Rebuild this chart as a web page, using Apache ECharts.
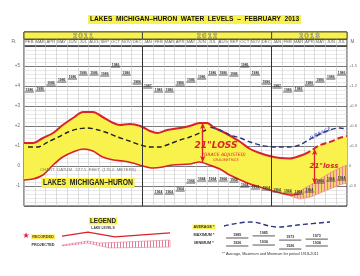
<!DOCTYPE html>
<html>
<head>
<meta charset="utf-8">
<script src="https://cdn.jsdelivr.net/npm/echarts@6/dist/echarts.min.js"></script>
<style>
html, body { margin: 0; padding: 0; background: #fff; }
#main { width: 360px; height: 276px; }
</style>
</head>
<body>
<div id="main"></div>
<script>
// months across the sheet, Feb 2011 .. Jul 2013 (x unit = 1 month, 0 = start of Feb 2011)
var months = ['FEB','MAR','APR','MAY','JUN','JUL','AUG','SEP','OCT','NOV','DEC',
  'JAN','FEB','MAR','APR','MAY','JUN','JUL','AUG','SEP','OCT','NOV','DEC',
  'JAN','FEB','MAR','APR','MAY','JUN','JUL'];
var years = ['2 0 1 1', '2 0 1 2', '2 0 1 3'];
var yearStart = [0, 11, 23];
var yearEnd = [11, 23, 30];

var ftTicks = [-1, 0, 1, 2, 3, 4, 5];
var ftLabels = ['-1', '0', '+1', '+2', '+3', '+4', '+5'];
var mLabels = ['-0.3', '0', '+0.3', '+0.6', '+0.9', '+1.2', '+1.5'];

// lake levels, feet above chart datum
var upperRecorded = [[0,1.15],[0.84,1.15],[1.76,1.4],[2.7,1.65],[3.6,2.05],[4.55,2.4],[5.5,2.7],
  [6.4,2.7],[7.3,2.45],[8.3,2.15],[8.9,2.05],[9.8,2.1],[10.8,2.0],[11.7,1.75],[12.4,1.65],
  [13.3,1.8],[14.5,1.9],[15.4,2.0],[16.3,2.15],[17.0,2.15],[17.7,1.9],[18.7,1.65],[20.1,1.2],
  [21.0,0.85],[21.9,0.65],[22.8,0.5],[23.8,0.4],[24.7,0.38],[25.6,0.5],[26.1,0.6]];
var upperProjected = [[26.1,0.6],[26.6,0.75],[27.5,1.05],[28.4,1.2],[29.3,1.4],[30,1.5]];
var lowerRecorded = [[0,-0.7],[0.84,-0.65],[1.76,-0.45],[2.7,0.05],[3.6,0.45],[4.55,0.7],[5.5,0.85],
  [6.4,0.75],[7.3,0.45],[8.3,0.3],[9.2,0.25],[10.1,0.15],[11.05,0],[12,-0.1],[12.9,-0.05],
  [13.8,0.05],[15.4,0.1],[16.3,0.2],[17.2,0.05],[18.2,-0.15],[19.1,-0.45],[20.1,-0.7],
  [21,-0.9],[21.9,-1.05],[22.8,-1.2],[23.8,-1.35],[24.7,-1.45],[25.6,-1.4]];
var projTop = [[24.7,-1.45],[25.6,-1.25],[26.6,-0.95],[27.5,-0.65],[28.4,-0.35],[29.3,-0.1],[30,0.05]];
var projBottom = [[24.7,-1.5],[25.6,-1.65],[26.6,-1.55],[27.5,-1.35],[28.4,-1.15],[29.3,-0.95],[30,-0.85]];
var avgBlack = [[0.37,0.95],[1.3,0.95],[2.2,1.2],[3.2,1.45],[4.1,1.7],[5.0,1.85],[5.9,1.9],[6.9,1.8],
  [7.8,1.65],[8.7,1.45],[9.8,1.25],[10.8,1.05],[11.7,0.95],[12.6,0.95],[13.5,1.1],[14.5,1.3],
  [15.4,1.45],[16.3,1.65],[16.9,1.8]];
var avgBlue = [[17.3,1.95],[18.2,1.8],[19.1,1.55],[20.1,1.4],[21,1.2],[21.9,1.05],[22.8,0.97],
  [23.8,0.95],[24.7,0.95],[25.6,1.05],[26.6,1.35],[27.5,1.6],[28.4,1.8],[29.3,1.9],[30,1.85]];

// record highs / lows per month (feet) and their years
var recMax = [3.7,3.75,4.05,4.2,4.35,4.55,4.55,4.5,4.95,4.55,4.1,3.9,
  3.7,3.7,4.05,4.2,4.35,4.55,4.55,4.5,4.95,4.55,4.1,3.9,3.7,3.75,4.05,4.2,4.35,4.55];
var recMaxYear = ['1986','1986','1986','1986','1986','1986','1986','1986','1986','1986','1986','1987',
  '1986','1986','1986','1986','1986','1986','1986','1986','1986','1986','1986','1987',
  '1986','1986','1986','1986','1986','1986'];
var recMin = [null,null,null,null,null,null,null,null,null,null,null,null,
  -1.4,-1.4,-1.25,-0.85,-0.75,-0.75,-0.75,-0.8,-1.05,-1.15,-1.2,-1.3,-1.35,-1.4,-1.3,-0.85,-0.75,-0.7];
var recMinYear = '1964';

// "21 inch loss" arrows: [x, from, to]
var lossArrows = [[16.6, 2.15, 0.2], [27.0, 0.85, -0.9]];

// legend samples (arbitrary 0..10 scales)
var legRecorded = [[0,6.8],[2.4,8.6],[4.9,6.4],[10,8.2]];
var legProjTop = [[0,2.7],[2.4,4.5],[3.5,3.6],[10,5]];
var legProjBottom = [[0,2.3],[2.4,3.6],[4.4,1.4],[10,1.8]];
var legAvg = [[0,7.5],[1,8.75],[2,7.2],[3,8.0],[4,8.75]];
var legMax = [3.75, 4.4, 3.1, 3.4];
var legMaxYear = ['1985', '1985', '1973', '1973'];
var legMin = [1.25, 1.55, 0.3, 1.25];
var legMinYear = ['1926', '1934', '1926', '1934'];

var hatch = document.createElement('canvas');
hatch.width = 3; hatch.height = 4;
var hc = hatch.getContext('2d');
hc.fillStyle = '#e47c98';
hc.fillRect(0, 0, 1, 4);

var RED = '#d9232b', YEL = '#faf24c', FONT = 'Liberation Sans';

function bandRender(top, bottom, fill, stroke) {
  return function (params, api) {
    var pts = [];
    top.forEach(function (p) { pts.push(api.coord(p)); });
    bottom.slice().reverse().forEach(function (p) { pts.push(api.coord(p)); });
    return { type: 'polygon', shape: { points: pts }, style: { fill: fill, stroke: stroke || null, lineWidth: 0.6 } };
  };
}

function recordRender(labels, size) {
  return function (params, api) {
    var i = api.value(0), v = api.value(1);
    var a = api.coord([i + 0.08, v]), b = api.coord([i + 0.92, v]);
    var txt = typeof labels === 'string' ? labels : labels[params.dataIndex];
    return { type: 'group', children: [
      { type: 'line', shape: { x1: a[0], y1: a[1], x2: b[0], y2: b[1] }, style: { stroke: '#444', lineWidth: 0.9 } },
      { type: 'text', style: { text: txt, x: (a[0] + b[0]) / 2, y: a[1] - 0.8, align: 'center', verticalAlign: 'bottom',
        fontSize: size, fontFamily: FONT, fontWeight: 'bold', fill: '#333' } }
    ] };
  };
}

var bandTop = upperRecorded.concat(upperProjected.slice(1));
var bandBottom = lowerRecorded.filter(function (p) { return p[0] < 24.7; }).concat(projBottom);

var myChart = echarts.init(document.getElementById('main'), null, { renderer: 'canvas' });

var option = {
  animation: false,
  grid: [
    { left: 24, right: 13, top: 46, bottom: 70, show: true, borderColor: '#333', borderWidth: 1 },
    { left: 24, right: 13, top: 32, height: 14, show: true, borderColor: '#333', borderWidth: 1 },
    { left: 62, width: 108, top: 229, height: 22 },
    { left: 224, width: 106, top: 218, height: 32 }
  ],
  xAxis: [
    { gridIndex: 0, type: 'category', data: months, position: 'top',
      axisLine: { show: false }, axisTick: { show: false }, splitLine: { show: false },
      axisLabel: { interval: 0, margin: 2, fontSize: 4.3, color: '#666', fontFamily: FONT } },
    { gridIndex: 0, type: 'value', min: 0, max: 30, interval: 1, position: 'bottom',
      axisLine: { show: false }, axisTick: { show: false }, axisLabel: { show: false },
      splitLine: { lineStyle: { color: '#c6c6c6', width: 0.6 } } },
    { gridIndex: 1, type: 'value', min: 0, max: 30, interval: 1,
      axisLine: { show: false }, axisTick: { show: false }, axisLabel: { show: false },
      splitLine: { lineStyle: { color: '#bbb', width: 0.6 } } },
    { gridIndex: 2, type: 'value', min: 0, max: 10, show: false },
    { gridIndex: 3, type: 'value', min: 0, max: 4, show: false }
  ],
  yAxis: [
    { gridIndex: 0, type: 'value', min: -2, max: 6, interval: 1,
      axisLine: { show: false }, axisTick: { show: false },
      axisLabel: { margin: 4, fontSize: 4.5, color: '#666', fontFamily: FONT,
        formatter: function (v) { var k = ftTicks.indexOf(v); return k < 0 ? '' : ftLabels[k]; } },
      splitLine: { lineStyle: { color: '#6a6a6a', width: 0.9 } },
      minorTick: { show: false, splitNumber: 5 },
      minorSplitLine: { show: true, lineStyle: { color: '#d2d2d2', width: 0.5 } } },
    { gridIndex: 0, type: 'value', min: -2, max: 6, interval: 1, position: 'right',
      axisLine: { show: false }, axisTick: { show: false }, splitLine: { show: false },
      axisLabel: { margin: 2, fontSize: 4, color: '#666', fontFamily: FONT,
        formatter: function (v) { var k = ftTicks.indexOf(v); return k < 0 ? '' : mLabels[k]; } } },
    { gridIndex: 1, type: 'value', min: 0, max: 1, interval: 0.5,
      axisLine: { show: false }, axisTick: { show: false }, axisLabel: { show: false },
      splitLine: { lineStyle: { color: '#444', width: 0.8 } } },
    { gridIndex: 2, type: 'value', min: 0, max: 10, show: false },
    { gridIndex: 3, type: 'value', min: 0, max: 10, show: false }
  ],
  series: [
    { type: 'custom', name: 'years', xAxisIndex: 2, yAxisIndex: 2, z: 5,
      data: [[0, 0], [1, 0], [2, 0]],
      renderItem: function (params, api) {
        var i = params.dataIndex;
        var a = api.coord([yearStart[i], 1]), b = api.coord([yearEnd[i], 0.5]);
        return { type: 'group', children: [
          { type: 'rect', shape: { x: a[0], y: a[1], width: b[0] - a[0], height: b[1] - a[1] },
            style: { fill: YEL, stroke: '#333', lineWidth: 0.8 } },
          { type: 'text', style: { text: years[i], x: (a[0] + b[0]) / 2, y: (a[1] + b[1]) / 2 + 0.3,
            align: 'center', verticalAlign: 'middle', fontSize: 6.5, fontFamily: FONT,
            fill: '#f4eeb0', stroke: '#555', lineWidth: 0.7 } }
        ] };
      } },
    { type: 'custom', name: 'range', xAxisIndex: 1, yAxisIndex: 0, z: 1, data: [[0, 0]],
      renderItem: bandRender(bandTop, bandBottom, YEL) },
    { type: 'custom', name: 'projected', xAxisIndex: 1, yAxisIndex: 0, z: 2, data: [[0, 0]],
      renderItem: bandRender(projTop, projBottom, 'rgba(236,150,170,0.35)', '#e47c98') },
    { type: 'custom', name: 'projectedHatch', xAxisIndex: 1, yAxisIndex: 0, z: 2, data: [[0, 0]],
      renderItem: bandRender(projTop, projBottom, { image: hatch, repeat: 'repeat' }) },
    { type: 'line', name: 'upper', xAxisIndex: 1, yAxisIndex: 0, z: 4, data: upperRecorded,
      smooth: 0.3, symbol: 'none', lineStyle: { color: RED, width: 2 } },
    { type: 'line', name: 'upperProj', xAxisIndex: 1, yAxisIndex: 0, z: 4, data: upperProjected,
      smooth: 0.3, symbol: 'none', lineStyle: { color: RED, width: 2, type: [6, 3] } },
    { type: 'line', name: 'lower', xAxisIndex: 1, yAxisIndex: 0, z: 4, data: lowerRecorded,
      smooth: 0.3, symbol: 'none', lineStyle: { color: RED, width: 1.6 },
      markLine: { silent: true, symbol: ['arrow', 'arrow'], symbolSize: [4, 6], label: { show: false },
        lineStyle: { color: RED, width: 1.3, type: 'solid' },
        data: lossArrows.map(function (d) { return [{ coord: [d[0], d[1]] }, { coord: [d[0], d[2]] }]; }) } },
    { type: 'line', name: 'avgBlack', xAxisIndex: 1, yAxisIndex: 0, z: 4, data: avgBlack,
      smooth: 0.3, symbol: 'none', lineStyle: { color: '#222', width: 1.4, type: [5, 3] },
      markLine: { silent: true, symbol: 'none', label: { show: false },
        lineStyle: { color: '#333', width: 1, type: 'solid' },
        data: [{ xAxis: yearStart[1] }, { xAxis: yearStart[2] }] } },
    { type: 'line', name: 'avgBlue', xAxisIndex: 1, yAxisIndex: 0, z: 4, data: avgBlue,
      smooth: 0.3, symbol: 'none', lineStyle: { color: '#2c3580', width: 1.4, type: [5, 3] } },
    { type: 'custom', name: 'recMax', xAxisIndex: 1, yAxisIndex: 0, z: 5,
      data: recMax.map(function (v, i) { return [i, v]; }), renderItem: recordRender(recMaxYear, 3.4) },
    { type: 'custom', name: 'recMin', xAxisIndex: 1, yAxisIndex: 0, z: 5,
      data: recMin.map(function (v, i) { return [i, v]; }).filter(function (d) { return d[1] !== null; }),
      renderItem: recordRender(recMinYear, 3.4) },
    // legend samples
    { type: 'line', name: 'legRecorded', xAxisIndex: 3, yAxisIndex: 3, data: legRecorded,
      symbol: 'none', lineStyle: { color: RED, width: 1.3 } },
    { type: 'custom', name: 'legProjected', xAxisIndex: 3, yAxisIndex: 3, data: [[0, 0]],
      renderItem: bandRender(legProjTop, legProjBottom, { image: hatch, repeat: 'repeat' }, '#e47c98') },
    { type: 'line', name: 'legAvg', xAxisIndex: 4, yAxisIndex: 4, data: legAvg, smooth: 0.4,
      symbol: 'none', lineStyle: { color: '#2c3580', width: 1.4, type: [5, 3] } },
    { type: 'custom', name: 'legMax', xAxisIndex: 4, yAxisIndex: 4,
      data: legMax.map(function (v, i) { return [i, v]; }), renderItem: recordRender(legMaxYear, 3.6) },
    { type: 'custom', name: 'legMin', xAxisIndex: 4, yAxisIndex: 4,
      data: legMin.map(function (v, i) { return [i, v]; }), renderItem: recordRender(legMinYear, 3.6) }
  ],
  graphic: [
    { type: 'text', left: 88, top: 15, z: 10, style: { text: 'LAKES  MICHIGAN–HURON  WATER  LEVELS  –  FEBRUARY  2013',
      fontSize: 6.6, fontWeight: 'bold', fontFamily: FONT, fill: '#111', backgroundColor: YEL, padding: [1, 2] } },
    { type: 'text', x: 14, y: 42, style: { text: 'Ft.', fontSize: 4.5, fontFamily: FONT, fill: '#666', align: 'center', verticalAlign: 'middle' } },
    { type: 'text', x: 353, y: 42, style: { text: 'M.', fontSize: 4.5, fontFamily: FONT, fill: '#666', align: 'center', verticalAlign: 'middle' } },
    { type: 'text', x: 88, y: 170, z: 10, style: { text: 'CHART  DATUM   577.5  FEET  (176.0  METERS)', fontSize: 4.3,
      fontFamily: FONT, fill: '#777', align: 'center', verticalAlign: 'middle' } },
    { type: 'text', x: 88, y: 183, z: 10, scaleX: 0.82,
      style: { text: 'LAKES  MICHIGAN–HURON', fontSize: 8.3, fontWeight: 'bold',
      fontFamily: FONT, fill: '#222', backgroundColor: YEL, padding: [1, 2], align: 'center', verticalAlign: 'middle' } },
    { type: 'text', x: 216, y: 146, z: 10, style: { text: '21"LOSS', fontSize: 9, fontWeight: 'bold', fontStyle: 'italic',
      fontFamily: 'DejaVu Sans', fill: RED, align: 'center', verticalAlign: 'middle' } },
    { type: 'text', x: 224, y: 155, z: 10, style: { text: '(GRACE ADJUSTED)', fontSize: 4.5, fontStyle: 'italic',
      fontFamily: 'DejaVu Sans', fill: RED, align: 'center', verticalAlign: 'middle' } },
    { type: 'text', x: 226, y: 160, z: 10, style: { text: 'GRAVIMETRICS', fontSize: 3.4, fontStyle: 'italic',
      fontFamily: 'DejaVu Sans', fill: RED, align: 'center', verticalAlign: 'middle' } },
    { type: 'text', x: 324, y: 166, z: 10, style: { text: '21"loss', fontSize: 7, fontWeight: 'bold', fontStyle: 'italic',
      fontFamily: 'DejaVu Sans', fill: RED, align: 'center', verticalAlign: 'middle' } },
    { type: 'text', x: 320, y: 134, rotation: 0.45, z: 10, style: { text: 'AVERAGE', fontSize: 5, fontStyle: 'italic',
      fontFamily: 'DejaVu Sans', fill: '#3a46a8', align: 'center', verticalAlign: 'middle' } },
    // legend text
    { type: 'text', x: 103, y: 221, style: { text: 'LEGEND', fontSize: 6.3, fontWeight: 'bold', fontFamily: FONT,
      fill: '#222', backgroundColor: YEL, padding: [0.5, 1], align: 'center', verticalAlign: 'middle' } },
    { type: 'text', x: 103, y: 228, style: { text: 'LAKE LEVELS', fontSize: 3.4, fontWeight: 'bold', fontFamily: FONT,
      fill: '#444', align: 'center', verticalAlign: 'middle' } },
    { type: 'text', x: 26, y: 236, style: { text: '★', fontSize: 8, fontFamily: 'DejaVu Sans', fill: '#e02040',
      align: 'center', verticalAlign: 'middle' } },
    { type: 'text', x: 43, y: 237, style: { text: 'RECORDED', fontSize: 3.8, fontWeight: 'bold', fontFamily: FONT,
      fill: '#7a3020', backgroundColor: YEL, padding: [0.5, 1], align: 'center', verticalAlign: 'middle' } },
    { type: 'text', x: 43, y: 245, style: { text: 'PROJECTED', fontSize: 3.8, fontWeight: 'bold', fontFamily: FONT,
      fill: '#333', align: 'center', verticalAlign: 'middle' } },
    { type: 'text', x: 204, y: 227, style: { text: 'AVERAGE *', fontSize: 3.8, fontWeight: 'bold', fontFamily: FONT,
      fill: '#333', backgroundColor: YEL, padding: [0.5, 1], align: 'center', verticalAlign: 'middle' } },
    { type: 'text', x: 204, y: 235, style: { text: 'MAXIMUM *', fontSize: 3.8, fontWeight: 'bold', fontFamily: FONT,
      fill: '#333', align: 'center', verticalAlign: 'middle' } },
    { type: 'text', x: 204, y: 243, style: { text: 'MINIMUM *', fontSize: 3.8, fontWeight: 'bold', fontFamily: FONT,
      fill: '#333', align: 'center', verticalAlign: 'middle' } },
    { type: 'text', x: 222, y: 254, style: { text: '** Average, Maximum and Minimum for period 1918-2011', fontSize: 3.8,
      fontFamily: FONT, fill: '#333', verticalAlign: 'middle' } }
  ]
};
myChart.setOption(option);
</script>
</body>
</html>
